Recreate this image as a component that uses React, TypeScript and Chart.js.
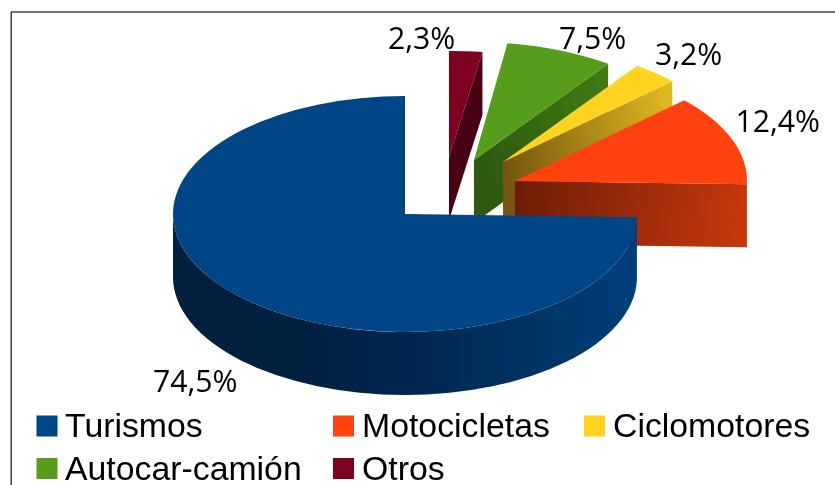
import React, { useEffect, useRef } from "react";
import { Chart, registerables } from "chart.js";

Chart.register(...registerables);

// Data, in legend order (the pie runs counter-clockwise from 12 o'clock)
const categories = ["Turismos", "Motocicletas", "Ciclomotores", "Autocar-camión", "Otros"];
const shares = [74.5, 12.4, 3.2, 7.5, 2.3];

// Styles
const topColors = ["#004586", "#ff420e", "#ffd320", "#579d1c", "#7e0021"];
const wallStops = [
  ["#001f3d", "#00203f", "#00264e", "#003262", "#003f7a"],
  ["#6c1d07", "#c8380c"],
  ["#76560f", "#dfb81f"],
  ["#2d5a10", "#3f7a14"],
  ["#4a0013", "#4a0013"],
];

// Layout
const RADIUS = 232;
const DEPTH = 63;
const sliceSquash = [118 / 232, 118 / 232, 118 / 232, 118 / 232, 106 / 232];
const sliceAnchors = [
  [405, 214],
  [515, 181],
  [503, 162],
  [474, 160],
  [449, 157],
];
const valueLabelAnchors = [
  [153, 392],
  [735.5, 132],
  [655, 65],
  [559, 49],
  [388, 49],
];
const legendAnchors = [
  [36.5, 415.5, 65],
  [333, 415.5, 362],
  [584, 415.5, 613],
  [36.5, 458, 65],
  [333, 458, 362],
];

const threeD = {
  id: "threeD",
  beforeDraw(chart: any) {
    const { ctx } = chart;
    ctx.save();
    ctx.fillStyle = "#ffffff";
    ctx.fillRect(0, 0, chart.width, chart.height);
    ctx.strokeStyle = "#444444";
    ctx.lineWidth = 1.5;
    ctx.beginPath();
    ctx.moveTo(11.25, 490);
    ctx.lineTo(11.25, 12);
    ctx.lineTo(840, 12);
    ctx.stroke();
    ctx.restore();
  },
  beforeDatasetsDraw(chart: any) {
    const { ctx } = chart;
    const arcs = chart.getDatasetMeta(0).data;
    const n = categories.length;
    arcs.forEach((arc: any, i: number) => {
      const src = n - 1 - i; // back-to-front: the chart holds the reversed order
      const [ax, ay] = sliceAnchors[src];
      const squash = sliceSquash[src];
      const r = arc.outerRadius;
      const rx = r;
      const ry = r * squash;
      const a1 = arc.startAngle;
      const a2 = arc.endAngle;
      const stops = wallStops[src];
      const fillStops = (g: CanvasGradient) =>
        stops.forEach((c, k) => g.addColorStop(k / (stops.length - 1), c));

      // outer rim wall on the front half
      const from = Math.max(a1, 0);
      const to = Math.min(a2, Math.PI);
      if (to > from) {
        const g = ctx.createLinearGradient(ax + rx, ay, ax - rx, ay);
        [...stops].reverse().forEach((c, k) => g.addColorStop(k / (stops.length - 1), c));
        ctx.beginPath();
        ctx.ellipse(ax, ay, rx, ry, 0, from, to);
        ctx.ellipse(ax, ay + DEPTH, rx, ry, 0, to, from, true);
        ctx.closePath();
        ctx.fillStyle = g;
        ctx.fill();
      }

      // radial wall on the clockwise end of the slice
      if (Math.cos(a2) > 0.001) {
        const ex = ax + rx * Math.cos(a2);
        const ey = ay + ry * Math.sin(a2);
        const g = ctx.createLinearGradient(ax, ay, ex, ey + DEPTH / 2);
        fillStops(g);
        ctx.beginPath();
        ctx.moveTo(ax, ay);
        ctx.lineTo(ex, ey);
        ctx.lineTo(ex, ey + DEPTH);
        ctx.lineTo(ax, ay + DEPTH);
        ctx.closePath();
        ctx.fillStyle = g;
        ctx.fill();
      }

      // top face: the library's own arc, squashed and moved to its exploded place
      ctx.save();
      ctx.translate(ax, ay);
      ctx.scale(1, squash);
      ctx.translate(-arc.x, -arc.y);
      arc.draw(ctx);
      ctx.restore();
    });
    return false;
  },
  afterDraw(chart: any) {
    const { ctx } = chart;
    ctx.save();
    ctx.textBaseline = "alphabetic";
    ctx.textAlign = "left";
    ctx.fillStyle = "#000000";
    ctx.font = '30.2px "Open Sans"';
    shares.forEach((v, i) => {
      const [x, y] = valueLabelAnchors[i];
      ctx.fillText(v.toFixed(1).replace(".", ",") + "%", x, y);
    });
    ctx.font = '33.8px "Liberation Sans"';
    categories.forEach((c, i) => {
      const [sx, sy, tx] = legendAnchors[i];
      ctx.fillStyle = topColors[i];
      ctx.fillRect(sx, sy, 21, 21);
      ctx.fillStyle = "#000000";
      ctx.fillText(c, tx, sy + 21.5);
    });
    ctx.restore();
  },
};

export default function App() {
  const ref = useRef<HTMLCanvasElement>(null);
  useEffect(() => {
    document.body.style.margin = "0";
    document.body.style.background = "#ffffff";
    const chart = new Chart(ref.current as HTMLCanvasElement, {
      type: "pie",
      data: {
        labels: [...categories].reverse(),
        datasets: [
          {
            data: [...shares].reverse(),
            backgroundColor: [...topColors].reverse(),
            borderWidth: 0,
          },
        ],
      },
      options: {
        responsive: false,
        animation: false,
        radius: RADIUS,
        rotation: 0,
        plugins: { legend: { display: false }, tooltip: { enabled: false } },
      } as any,
      plugins: [threeD],
    });
    return () => chart.destroy();
  }, []);
  return (
    <canvas ref={ref} width={835} height={485} style={{ display: "block", width: 835, height: 485 }} />
  );
}
